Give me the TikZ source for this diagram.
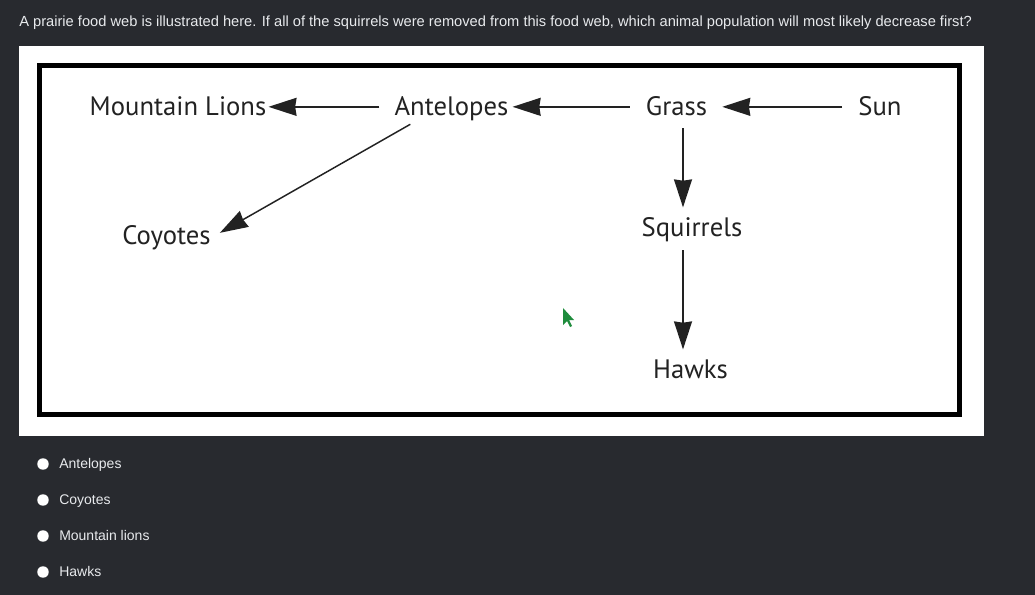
\documentclass[tikz,border=0pt]{standalone}
\usepackage{fontspec}
\setmainfont{Liberation Sans}
\newfontfamily\webfont{PT Sans}
\usetikzlibrary{arrows.meta,calc}
\definecolor{pagedark}{HTML}{282A2F}
\definecolor{pagetext}{HTML}{E8EAED}
\definecolor{inkgray}{HTML}{222222}
\definecolor{cursorgreen}{HTML}{1E8C3C}

\begin{document}
\begin{tikzpicture}[x=.75pt,y=-.75pt,
                    animal/.style={font=\webfont\fontsize{20}{24}\selectfont,text=inkgray,inner sep=0pt,anchor=base,text height=13pt,text depth=0pt},
                    feeds/.style={-{Stealth[length=21pt,width=13.5pt,inset=1pt]},line width=1.1pt,inkgray},
                    choice/.style={font=\fontsize{10.5}{12}\selectfont,text=pagetext,anchor=base west,inner sep=0pt}]
                    \fill[pagedark](0,0)rectangle(1035,595);
                    \useasboundingbox(0,0)rectangle(1035,595);
                    \node[choice,font=\fontsize{11}{13}\selectfont](question)at(19,27){A prairie food web is illustrated here. If all of the squirrels were removed from this food web, which animal population will most likely decrease first?};
                    \fill[white](19,46)rectangle(984,436);
                    \draw[line width=3.75pt](39.5,65.5)rectangle(959.5,414.5);
                    \node[animal](lions)at(178,115.5){Mountain Lions};
                    \node[animal](ante)at(451.5,115.5){Antelopes};
                    \node[animal](grass)at(676.5,115.5){Grass};
                    \node[animal](sun)at(880,115.5){Sun};
                    \node[animal](coyotes)at(166.5,245){Coyotes};
                    \node[animal](squir)at(692,237){Squirrels};
                    \node[animal](hawks)at(690.5,378){Hawks};
                    \draw[feeds]($(sun.west)+(-16,0)$)--($(grass.east)+(15,0)$);
                    \draw[feeds]($(grass.west)+(-16,0)$)--($(ante.east)+(4,0)$);
                    \draw[feeds]($(ante.west)+(-15,0)$)--($(lions.east)+(2,0)$);
                    \draw[feeds]($(ante.south west)+(16,8.5)$)--($(coyotes.east)+(9,-3.5)$);
                    \draw[feeds]($(grass.south)+(6.5,12.5)$)--($(squir.north)+(-9,-12)$);
                    \draw[feeds]($(squir.south)+(-9,13)$)--($(hawks.north)+(-7.5,-11)$);
                    \fill[cursorgreen](563,308)--(563,325)--(567,321)--(570,327)--(572,326)--(569,320)--(574,320)--cycle;
                    \fill[white](43,464)circle[radius=4.3pt];
                    \fill[white](43,500)circle[radius=4.3pt];
                    \fill[white](43,536)circle[radius=4.3pt];
                    \fill[white](43,572)circle[radius=4.3pt];
                    \node[choice](optA)at(59,468){Antelopes};
                    \node[choice](optB)at(59,504){Coyotes};
                    \node[choice](optC)at(59,540){Mountain lions};
                    \node[choice](optD)at(59,576){Hawks};
                \end{tikzpicture}
\end{document}
